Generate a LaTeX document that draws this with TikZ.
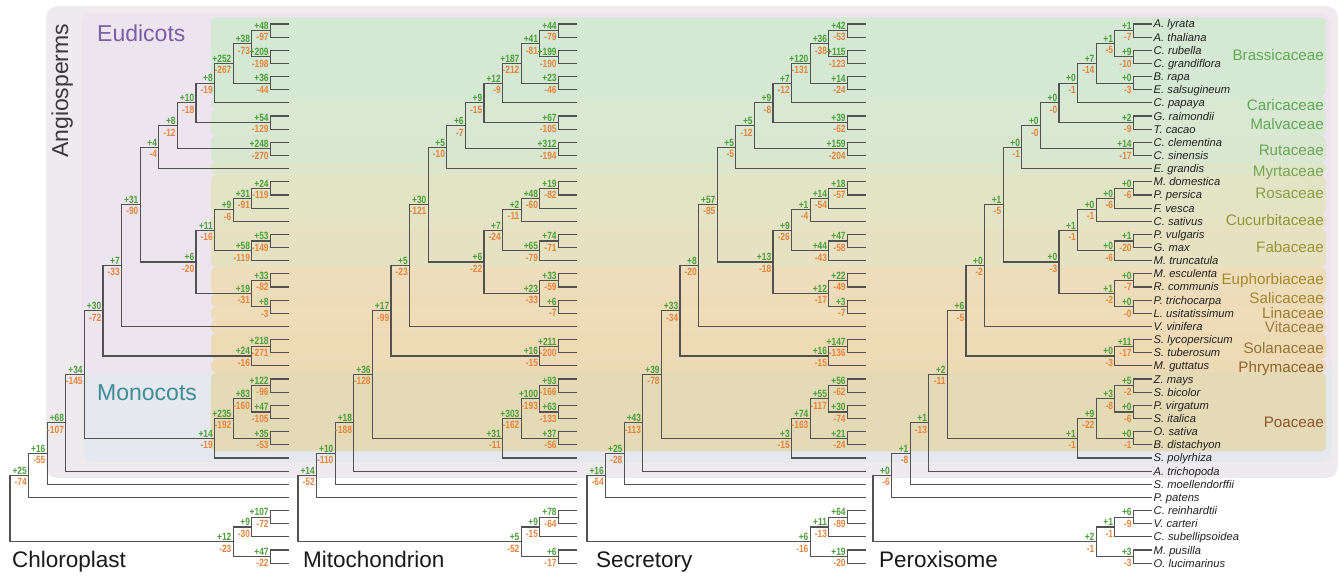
\documentclass[tikz,border=0pt]{standalone}
\usepackage{fontspec}
\setmainfont{Liberation Sans}
\newfontfamily\numfont[FakeStretch=0.8]{Liberation Sans}
\definecolor{plusg}{HTML}{4A9E3A}
\definecolor{minuso}{HTML}{E8843C}
\definecolor{edgec}{HTML}{525252}
\definecolor{angbg}{HTML}{EEEAEE}
\definecolor{eudbg}{HTML}{ECE4EE}
\definecolor{monobg}{HTML}{E5E8EE}
\definecolor{angtxt}{HTML}{3A3A3A}
\definecolor{eudtxt}{HTML}{7B5EA7}
\definecolor{monotxt}{HTML}{3F8C96}
% band colours
\definecolor{bBras}{HTML}{D5E8D3}
\definecolor{bCari}{HTML}{D7E8D3}
\definecolor{bMalv}{HTML}{D8E8D2}
\definecolor{bRuta}{HTML}{DAE7D0}
\definecolor{bMyrt}{HTML}{DDE6CB}
\definecolor{bRosa}{HTML}{E2E4C5}
\definecolor{bCucu}{HTML}{E4E3C3}
\definecolor{bFaba}{HTML}{E6E2C1}
\definecolor{bEuph}{HTML}{EEDDBA}
\definecolor{bSali}{HTML}{EEDCB9}
\definecolor{bLina}{HTML}{EFDCB8}
\definecolor{bVita}{HTML}{EFDBB7}
\definecolor{bSola}{HTML}{EFDAB6}
\definecolor{bPhry}{HTML}{EED9B5}
\definecolor{bPoac}{HTML}{E4DAB5}
% family text colours
\definecolor{fBras}{RGB}{98,170,88}
\definecolor{fCari}{RGB}{95,166,90}
\definecolor{fMalv}{RGB}{100,166,90}
\definecolor{fRuta}{RGB}{106,164,86}
\definecolor{fMyrt}{RGB}{122,165,80}
\definecolor{fRosa}{RGB}{136,158,66}
\definecolor{fCucu}{RGB}{142,150,52}
\definecolor{fFaba}{RGB}{152,150,56}
\definecolor{fEuph}{RGB}{166,136,46}
\definecolor{fSali}{RGB}{164,134,52}
\definecolor{fLina}{RGB}{156,126,56}
\definecolor{fVita}{RGB}{154,124,60}
\definecolor{fSola}{RGB}{150,116,56}
\definecolor{fPhry}{RGB}{140,100,46}
\definecolor{fPoac}{RGB}{140,86,46}
\newcommand\TreeStruct{Br1/L0/L1/1/0.5, Br2/L2/L3/1/2.5, Br12/Br1/Br2/2/1.5,
 Br3/L4/L5/1/4.5, Brass/Br12/Br3/3/3, BC/Brass/L6/4/4.5, Mal/L7/L8/1/7.5,
 BCM/BC/Mal/5/6, Cit/L9/L10/1/9.5, BCMC/BCM/Cit/6/7.75, Malv/BCMC/L11/7/9.375,
 Ros1/L12/L13/1/12.5, Ros/Ros1/L14/2/13.25, RC/Ros/L15/3/14.125,
 Fab1/L16/L17/1/16.5, Fab/Fab1/L18/2/17.25, RCF/RC/Fab/4/15.6875,
 Eu/L19/L20/1/19.5, SL/L21/L22/1/21.5, Malp/Eu/SL/2/20.5,
 Fabids/RCF/Malp/5/18.09375, Rosids/Malv/Fabids/8/13.734375,
 RV/Rosids/L23/9/18.3671875, Sol/L24/L25/1/24.5, Ast/Sol/L26/2/25.25,
 Eud/RV/Ast/10/21.80859375, P1/L27/L28/1/27.5, P2/L29/L30/1/29.5,
 P12/P1/P2/2/28.5, P3/L31/L32/1/31.5, Poa/P12/P3/3/30, Mono/Poa/L33/4/31.5,
 Mesang/Eud/Mono/11/26.654296875, Angio/Mesang/L34/12/30.3271484375,
 Vasc/Angio/L35/13/32.66357421875, Embryo/Vasc/L36/14/34.331787109375,
 CV/L37/L38/1/37.5, CVC/CV/L39/2/38.25, MO/L40/L41/1/40.5, Chl/CVC/MO/3/39.375,
 Root/Embryo/Chl/15/36.8533935546875}
\newcommand\Labs[2]{\foreach \n/\g/\o in {#2}{%
  \node[pl] (#1-\n-g) at ([xshift=-1.6pt,yshift=0.9pt]#1-\n) {+\g};
  \node[mi] (#1-\n-o) at ([xshift=-1.6pt,yshift=-2.8pt]#1-\n) {-\o};}}
\begin{document}
\begin{tikzpicture}[x=1pt,y=-1pt,
  edge/.style={draw=edgec,line width=1.15pt},
  pl/.style={anchor=south east,inner sep=0pt,text=plusg,font=\numfont\bfseries\fontsize{10.5}{11}\selectfont},
  mi/.style={anchor=north east,inner sep=0pt,text=minuso,font=\numfont\bfseries\fontsize{10.5}{11}\selectfont},
  sp/.style={anchor=base west,inner sep=0pt,text=black!87,font=\itshape\fontsize{11.2}{12}\selectfont},
  fam/.style={anchor=base east,inner sep=0pt,font=\fontsize{15.2}{16}\selectfont},
  ptitle/.style={anchor=base west,inner sep=0pt,text=black!90,font=\fontsize{22.5}{24}\selectfont},
  clade/.style={anchor=base west,inner sep=0pt,font=\fontsize{23}{24}\selectfont}]
\useasboundingbox (0,0) rectangle (1340,577);
\fill[white] (0,0) rectangle (1340,577);
% background boxes
\fill[angbg,rounded corners=12pt] (46,6) rectangle (1338,478);
\fill[monobg,rounded corners=10pt] (83,355) rectangle (1331,462);
\fill[eudbg,rounded corners=10pt] (81,13) rectangle (1331,373);
% family bands
\foreach \a/\b/\c in {0/5/bBras,6/6/bCari,7/8/bMalv,9/10/bRuta,11/11/bMyrt,
  12/14/bRosa,15/15/bCucu,16/18/bFaba,19/20/bEuph,21/21/bSali,22/22/bLina,
  23/23/bVita,24/25/bSola,26/26/bPhry,27/32/bPoac}{
  \fill[\c,rounded corners=6pt] (211,{24+13.15*\a-6.6}) rectangle (1326,{24+13.15*\b+6.6});
}
% trees
\foreach \p/\X in {C/10,M/298,S/587,P/873}{
  \foreach \i in {0,...,41}{\coordinate (\p-L\i) at ({\X+279},{24+13.15*\i});}
  \foreach \n/\a/\b/\h/\k in \TreeStruct{
    \coordinate (\p-\n) at ({\X+18.6*(15-\h)},{24+13.15*\k});
    \draw[edge] (\p-\a) -| (\p-\n) |- (\p-\b);
  }
}
% gain / loss labels
\Labs{C}{Br1/48/97, Br2/209/198, Br12/38/73, Br3/36/44, Brass/252/267, BC/8/19,
 Mal/54/129, BCM/10/18, Cit/248/270, BCMC/8/12, Malv/4/4, Ros1/24/119, Ros/31/91,
 RC/9/6, Fab1/53/149, Fab/58/119, RCF/11/16, Eu/33/82, SL/8/3, Malp/19/31,
 Fabids/6/20, Rosids/31/90, RV/7/33, Sol/218/271, Ast/24/16, Eud/30/72,
 P1/122/96, P2/47/105, P12/83/160, P3/35/53, Poa/235/192, Mono/14/19,
 Mesang/34/145, Angio/68/107, Vasc/16/55, Embryo/25/74, CV/107/72, CVC/9/30,
 MO/47/22, Chl/12/23}
\Labs{M}{Br1/44/79, Br2/199/190, Br12/41/81, Br3/23/46, Brass/187/212, BC/12/9,
 Mal/67/105, BCM/9/15, Cit/312/194, BCMC/6/7, Malv/5/10, Ros1/19/82, Ros/48/60,
 RC/2/11, Fab1/74/71, Fab/65/79, RCF/7/24, Eu/33/59, SL/6/7, Malp/23/33,
 Fabids/6/22, Rosids/30/121, RV/5/23, Sol/211/200, Ast/16/15, Eud/17/99,
 P1/93/166, P2/63/133, P12/100/193, P3/37/56, Poa/303/162, Mono/31/11,
 Mesang/36/128, Angio/18/188, Vasc/10/110, Embryo/14/52, CV/78/64, CVC/9/15,
 MO/6/17, Chl/5/52}
\Labs{S}{Br1/42/53, Br2/115/123, Br12/36/38, Br3/14/24, Brass/120/131, BC/7/12,
 Mal/39/62, BCM/9/8, Cit/159/204, BCMC/5/12, Malv/5/5, Ros1/18/57, Ros/14/54,
 RC/1/4, Fab1/47/58, Fab/44/43, RCF/9/26, Eu/22/49, SL/3/7, Malp/12/17,
 Fabids/13/18, Rosids/57/85, RV/8/20, Sol/147/136, Ast/16/15, Eud/33/34,
 P1/56/62, P2/30/74, P12/55/117, P3/21/24, Poa/74/163, Mono/3/15,
 Mesang/39/78, Angio/43/113, Vasc/25/28, Embryo/16/64, CV/64/89, CVC/11/13,
 MO/19/20, Chl/6/16}
\Labs{P}{Br1/1/7, Br2/9/10, Br12/1/5, Br3/0/3, Brass/7/14, BC/0/1,
 Mal/2/9, BCM/0/0, Cit/14/17, BCMC/0/0, Malv/0/1, Ros1/0/6, Ros/0/6,
 RC/0/1, Fab1/1/20, Fab/0/6, RCF/1/1, Eu/0/7, SL/0/0, Malp/1/2,
 Fabids/0/3, Rosids/1/5, RV/0/2, Sol/11/17, Ast/0/3, Eud/6/5,
 P1/5/2, P2/0/6, P12/3/8, P3/0/1, Poa/9/22, Mono/1/1,
 Mesang/2/11, Angio/1/13, Vasc/1/8, Embryo/0/6, CV/6/9, CVC/1/1,
 MO/3/3, Chl/2/1}
% species
\foreach \i/\s in {0/A. lyrata, 1/A. thaliana, 2/C. rubella, 3/C. grandiflora,
 4/B. rapa, 5/E. salsugineum, 6/C. papaya, 7/G. raimondii, 8/T. cacao,
 9/C. clementina, 10/C. sinensis, 11/E. grandis, 12/M. domestica, 13/P. persica,
 14/F. vesca, 15/C. sativus, 16/P. vulgaris, 17/G. max, 18/M. truncatula,
 19/M. esculenta, 20/R. communis, 21/P. trichocarpa, 22/L. usitatissimum,
 23/V. vinifera, 24/S. lycopersicum, 25/S. tuberosum, 26/M. guttatus,
 27/Z. mays, 28/S. bicolor, 29/P. virgatum, 30/S. italica, 31/O. sativa,
 32/B. distachyon, 33/S. polyrhiza, 34/A. trichopoda, 35/S. moellendorffii,
 36/P. patens, 37/C. reinhardtii, 38/V. carteri, 39/C. subellipsoidea,
 40/M. pusilla, 41/O. lucimarinus}{
  \node[sp] (sp\i) at ([xshift=1.5pt,yshift=-4pt]P-L\i) {\s};
}
% family names
\foreach \nm/\yb/\c in {Brassicaceae/61/fBras, Caricaceae/111/fCari,
 Malvaceae/130/fMalv, Rutaceae/156/fRuta, Myrtaceae/177/fMyrt,
 Rosaceae/199/fRosa, Cucurbitaceae/226/fCucu, Fabaceae/252/fFaba,
 Euphorbiaceae/284/fEuph, Salicaceae/303/fSali, Linaceae/318/fLina,
 Vitaceae/332/fVita, Solanaceae/353/fSola, Phrymaceae/372/fPhry,
 Poaceae/427/fPoac}{
  \node[fam,text=\c] (fam-\nm) at (1324,\yb) {\nm};
}
% titles
\node[ptitle] (tC) at (12,567) {Chloroplast};
\node[ptitle] (tM) at (303,567) {Mitochondrion};
\node[ptitle] (tS) at (596,567) {Secretory};
\node[ptitle] (tP) at (879,567) {Peroxisome};
\node[anchor=base,rotate=90,inner sep=0pt,text=angtxt,font=\fontsize{23}{24}\selectfont] (tAng) at (68,90.8) {Angiosperms};
\node[clade,text=eudtxt] (tEud) at (97,42) {Eudicots};
\node[clade,text=monotxt] (tMono) at (97,400) {Monocots};
\end{tikzpicture}
\end{document}
